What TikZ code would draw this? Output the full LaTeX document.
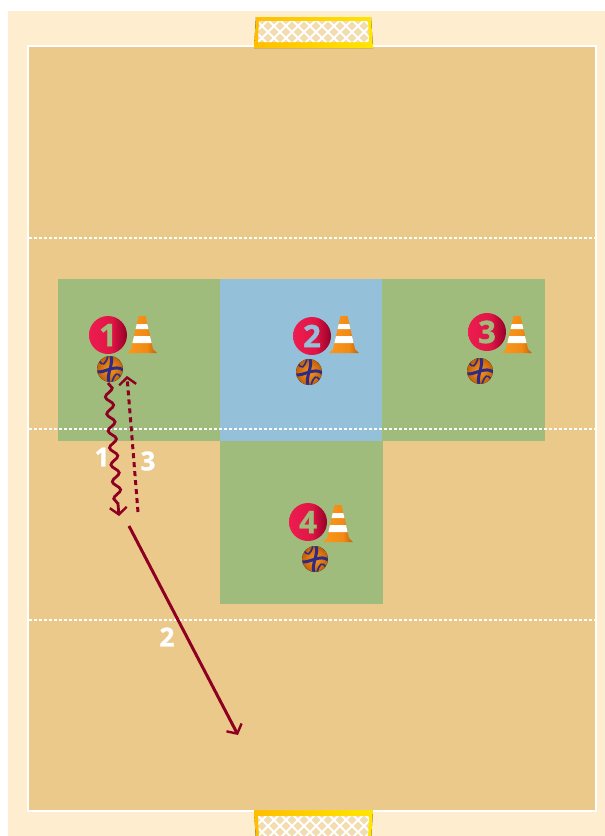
\documentclass[tikz,border=0pt]{standalone}
\usepackage{fontspec}
\setmainfont{Open Sans}
\newfontfamily\heavy[BoldFeatures={FakeBold=1.2}]{Open Sans}
\usetikzlibrary{arrows.meta,decorations.pathmorphing}
\definecolor{cream}{HTML}{FEEDCF}
\definecolor{court}{HTML}{EBC98A}
\definecolor{zgreen}{HTML}{A0BC7C}
\definecolor{zblue}{HTML}{94C0DA}
\definecolor{runred}{HTML}{8E0022}
\definecolor{netbg}{HTML}{F3DDB0}
\definecolor{pleft}{HTML}{EE1C50}
\definecolor{pmid}{HTML}{E01545}
\definecolor{pright}{HTML}{950028}
\definecolor{coneL}{HTML}{F9981E}
\definecolor{coneM}{HTML}{F28A14}
\definecolor{coneR}{HTML}{C0600A}
\definecolor{seam}{HTML}{2E2A86}
\definecolor{goalL}{HTML}{FFBE00}
\definecolor{goalR}{HTML}{FFE600}
\pgfdeclarehorizontalshading{playershade}{100bp}{color(0bp)=(pleft); color(25bp)=(pleft); color(55bp)=(pmid); color(75bp)=(pright); color(100bp)=(pright)}
\pgfdeclarehorizontalshading{coneshade}{100bp}{color(0bp)=(coneL); color(25bp)=(coneL); color(58bp)=(coneM); color(75bp)=(coneR); color(100bp)=(coneR)}
\tikzset{
  zone/.style={fill=#1,draw=none},
  midline/.style={white,line width=1.5pt,dash pattern=on 3pt off 2pt},
  player/.style={circle,minimum size=38pt,inner sep=0pt,shading=playershade,
     font=\heavy\fontsize{31}{31}\selectfont\bfseries},
  runlabel/.style={white,inner sep=0pt,font=\heavy\fontsize{26}{26}\selectfont\bfseries},
  head/.style={-{Straight Barb[length=7pt,width=17pt,line width=2.4pt]}},
  runline/.style={runred,line width=3pt,head},
  pics/conemark/.style={code={
    \shade[shading=coneshade] (-15,0) -- (-11,-4) -- (-3.5,-37) -- (3.5,-37) -- (11,-4) -- (15,0) -- cycle;
    \fill[white] (-5.3,-29) -- (5.3,-29) -- (6.4,-24) -- (-6.4,-24) -- cycle;
    \fill[white] (-8,-17) -- (8,-17) -- (9.6,-10) -- (-9.6,-10) -- cycle;
  }},
  pics/ballmark/.style={code={
    \fill[inner color=coneL,outer color=coneR] (0,0) circle (13);
    \begin{scope}
      \clip (0,0) circle (13);
      \draw[seam,line width=3pt] (-13,3) .. controls (-6,4) and (6,-5) .. (13,1);
      \draw[seam,line width=3pt] (1,-13) .. controls (4,-6) and (-4,6) .. (-1,13);
      \draw[seam,line width=1.6pt] (-11,-8) .. controls (-7,-3) and (-5,-4) .. (-2,-13);
      \draw[seam,line width=1.6pt] (11,8) .. controls (7,3) and (5,4) .. (2,13);
    \end{scope}
  }},
}
\newcommand{\goalshape}{(254,48) -- (256,17) -- (371,17) -- (373,48) -- cycle}
\newcommand{\netshape}{(258,42) -- (259,21) -- (368,21) -- (369,42) -- cycle}
\newcommand{\netlines}{%
  \foreach \k in {-4,...,12} {
    \draw[white,line width=1.8pt] (240+\k*12,48) -- (240+\k*12+32,16);
    \draw[white,line width=1.8pt] (240+\k*12,16) -- (240+\k*12+32,48);
  }}
\begin{document}
\begin{tikzpicture}[x=1pt,y=-1pt]
\useasboundingbox (0,0) rectangle (605,836);
\clip (0,0) rectangle (605,836);
\fill[white] (0,0) rectangle (605,836);
\fill[cream] (8,11) rectangle (605,836);
\fill[white] (27,45) rectangle (597,812);
\fill[court] (29,47) rectangle (595,810);

% zones
\fill[zone=zgreen] (58,279) rectangle (220,441);
\fill[zone=zblue] (220,279) rectangle (382,441);
\fill[zone=zgreen] (382,279) rectangle (545,441);
\fill[zone=zgreen] (220,441) rectangle (383,604);

% dashed court lines
\draw[midline] (29,238) -- (595,238);
\draw[midline] (29,429) -- (595,429);
\draw[midline] (29,620) -- (595,620);

% goals
\fill[left color=goalL,right color=goalR] \goalshape;
\begin{scope}
  \clip \netshape;
  \fill[netbg] (250,10) rectangle (380,50);
  \netlines
\end{scope}
\begin{scope}[yshift=-858pt,yscale=-1]
  \fill[left color=goalL,right color=goalR] \goalshape;
  \begin{scope}
    \clip \netshape;
    \fill[netbg] (250,10) rectangle (380,50);
    \netlines
  \end{scope}
\end{scope}

% cones
\pic at (142,353) {conemark};
\pic at (344,353) {conemark};
\pic at (517,353) {conemark};
\pic at (338,542) {conemark};

% balls
\pic at (110,369) {ballmark};
\pic at (309,372) {ballmark};
\pic at (480,371) {ballmark};
\pic at (315,559) {ballmark};

% players
\node[player,text=zgreen] (p1) at (108,335) {1};
\node[player,text=zblue] (p2) at (312,336) {2};
\node[player,text=zgreen] (p3) at (487,332) {3};
\node[player,text=zgreen] (p4) at (308,522) {4};

% runs
\coordinate (w1s) at (108,383);
\coordinate (w1e) at (119,516);
\coordinate (d3s) at (138,512);
\coordinate (d3e) at (127,376);
\coordinate (s2s) at (129,526);
\coordinate (s2e) at (238,735);
\draw[runred,line width=2.8pt,head,decorate,decoration={snake,amplitude=3.8pt,segment length=17pt,post length=8pt}] (w1s) -- (w1e);
\draw[runline,dash pattern=on 5pt off 4pt] (d3s) -- (d3e);
\draw[runline] (s2s) -- (s2e);

% labels
\node[runlabel] (l1) at (102,457) {1};
\node[runlabel] (l3) at (148,461) {3};
\node[runlabel] (l2) at (167,637) {2};
\end{tikzpicture}
\end{document}
